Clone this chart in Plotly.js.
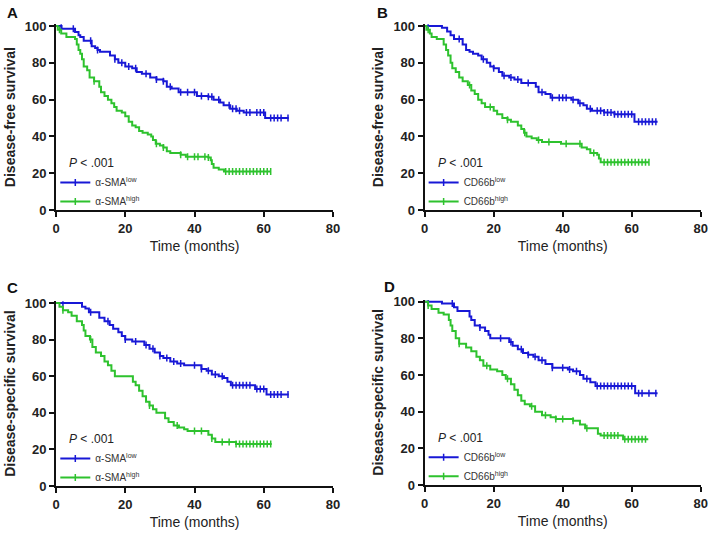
<!DOCTYPE html>
<html>
<head>
<meta charset="utf-8">
<script src="https://cdn.plot.ly/plotly-3.0.1.min.js"></script>
<style>
  body { margin: 0; background: #fff; }
  #plot { width: 709px; height: 534px; }
</style>
</head>
<body>
<div id="plot"></div>
<script>
// Kaplan-Meier steps: time (months) and survival (%)
var aLowT = [0,1.6,5.5,6.5,7,8,10.3,11.3,12,12.7,15.6,17,18,20,22,23.3,24.8,27.2,29,31,32,33.4,35.4,40.7,44,45.5,47.4,48.4,50.3,52.2,54.2,60.4,67.2];
var aLowS = [100,98.5,96.7,95,94,92,89,88,87,86,84,82,80,78,77,75,74,72,71,70,67,66,64,62,61.5,60,58.5,57,55,54,53,50,50];
var aHighT = [0,0.5,1.5,3,5.5,6,6.5,7,7.5,8,9,9.7,11,12.5,13,14,15,16,16.8,17.5,19,20,21,22,23,24,25,26.5,27.5,28,28.8,30,31,32,33,36,37.5,44,44.7,45,45.5,47,48.5,62];
var aHighS = [100,98,96,94,93,90,87,85,82,78,76,72,70,67,64,62,60,58,56,54,53,51,48,46,45,43,42,41,40,38,36,35,34,32,31,30,29,28.5,27,25,23,22,21,21];

var bLowT = [0,5,6.5,7.5,8.5,11,12,13,14,15.5,16.5,18,19,20,21.5,22.5,24.5,26,28,32.2,33,35,36.5,42.5,44.5,46,47,48.5,52,55,60.8,67.5];
var bLowS = [100,99,97,95,93,90,87,86,85,84,82,80,78,77,75,73,72,71,69,67,64,63,61,60,58,57,55,54,53,52,48,48];
var bHighT = [0,0.5,1.5,2,3.5,5.5,6.2,6.8,7.5,8,9,10,11,12.5,13.5,14.5,15.5,16.5,17.5,20,21,22.5,24,25,27,28,28.8,29.5,31,32.5,34,39.5,45.5,47,48,50,50.5,51,65];
var bHighS = [100,98,96,94,93,90,87,84,80,77,75,72,70,68,65,63,60,58,56,54,52,50,49,48,46,44,42,40,39,38,37,36,34,33,31,30,28,26,26];

var cLowT = [0,7.5,8.5,9.5,12.5,14,15.5,16.5,18,19,20,22,25.5,27,28.5,30,31,33,35,37,42,43.5,45,47,48.5,49.5,50.5,57.5,60.8,67.2];
var cLowS = [100,98,97,95,92,90,88,86,84,82,80,79,77,75,73,71,70,68,67,66,64,63,61,60,59,57,55,53,50,50];
var cHighT = [0,1,2,3.5,4.5,6,7.5,8,8.5,9.8,10.5,11.5,13,14,15,16,17,22.2,23,24,25,26,27,28,29,31.5,32.5,34,35.5,37,38,44,45,46,52,62.3];
var cHighS = [100,98,96,95,93,90,88,85,82,80,76,73,71,68,66,63,60,57,55,52,49,46,44,42,40,37,35,33,32,31,30,28,26,24,23,23];

var dLowT = [0,5,8.5,9.5,13,13.5,14.5,16,17.5,18.5,19,24.5,25.5,27,28.5,30,31.5,33,35,37,41.5,43,45,46,48,49.5,61,67.5];
var dLowS = [100,99,97,95,92,90,87,86,84,82,80,78,76,74,72,71,70,68,66,64,63,62,60,58,56,54,50,50];
var dHighT = [0,1,2,4,5.5,7,7.5,8,9,10,12,13.5,15,16,17,19,21,22.5,23.5,25,26,27,28,29,30.5,32,34,36.5,38,43,45,46.5,50.2,51,57.5,64.8];
var dHighS = [100,98,96,94,93,90,87,84,80,77,75,73,70,68,65,63,62,60,58,55,52,49,46,44,43,40,38,37,36,35,33,31,28,27,25,25];

// censored observations (months)
var aLowC = [1.5,5,10,12,17,19,21,23,26,29,31,33,36,38,40,42,44,45,47,50,51,52,53,55,56,58,59,60,62,63,64,65,67];
var aHighC = [1,11,29,31,36,38,40,41,43,44,49,50,51,52,53,54,55,56,57,58,59,60,61,62];
var bLowC = [1,10,17,20,23,25,27,30,34,37,39,40,41,43,45,48,50,51,52,53,54,55,56,57,58,59,60,62,63,64,65,66,67];
var bHighC = [1,13,19,24,29,33,36,41,45,49,52,53,54,55,56,57,58,59,60,61,62,63,64,65];
var cLowC = [2,10,15,20,23,26,28,30,32,34,36,40,42,44,46,48,51,52,53,54,55,56,58,59,60,62,63,64,65,67];
var cHighC = [2,10,27,35,40,42,45,48,50,52,53,54,55,56,57,58,59,60,61,62];
var dLowC = [1,8,16,22,25,28,30,32,34,37,40,42,44,47,50,51,52,53,54,55,56,57,58,59,60,62,63,65,67];
var dHighC = [1,10,18,24,31,35,38,40,43,47,52,53,54,55,56,58,59,60,61,62,63,64];

var panelLetters = ['A', 'B', 'C', 'D'];
var yTitles = ['Disease-free survival', 'Disease-free survival', 'Disease-specific survival', 'Disease-specific survival'];
var groupNames = [['α-SMA<sup>low</sup>', 'α-SMA<sup>high</sup>'], ['CD66b<sup>low</sup>', 'CD66b<sup>high</sup>'],
                  ['α-SMA<sup>low</sup>', 'α-SMA<sup>high</sup>'], ['CD66b<sup>low</sup>', 'CD66b<sup>high</sup>']];
var pText = '<i>P</i> < .001';

var BLUE = '#1818d6';
var GREEN = '#2ec22e';
var FONT = 'Liberation Sans, Arial, sans-serif';

var curves = [
  [[aLowT, aLowS, aLowC], [aHighT, aHighS, aHighC]],
  [[bLowT, bLowS, bLowC], [bHighT, bHighS, bHighC]],
  [[cLowT, cLowS, cLowC], [cHighT, cHighS, cHighC]],
  [[dLowT, dLowS, dLowC], [dHighT, dHighS, dHighC]]
];

function stepAt(t, s, x) {
  var v = s[0];
  for (var i = 0; i < t.length; i++) {
    if (t[i] <= x) v = s[i];
  }
  return v;
}

var data = [];
for (var p = 0; p < 4; p++) {
  var xa = p == 0 ? 'x' : 'x' + (p + 1);
  var ya = p == 0 ? 'y' : 'y' + (p + 1);
  var lg = p == 0 ? 'legend' : 'legend' + (p + 1);
  for (var g = 0; g < 2; g++) {
    var col = g == 0 ? BLUE : GREEN;
    var c = curves[p][g];
    data.push({
      x: c[0], y: c[1], xaxis: xa, yaxis: ya,
      mode: 'lines', type: 'scatter', line: {color: col, width: 2, shape: 'hv'},
      showlegend: false, hoverinfo: 'skip'
    });
    var cy = [];
    for (var k = 0; k < c[2].length; k++) cy.push(stepAt(c[0], c[1], c[2][k]));
    data.push({
      x: c[2], y: cy, xaxis: xa, yaxis: ya,
      mode: 'markers', type: 'scatter',
      marker: {symbol: 'line-ns-open', size: 5, color: col, line: {color: col, width: 1.5}},
      showlegend: false, hoverinfo: 'skip'
    });
    // legend entry
    data.push({
      x: [null], y: [null], xaxis: xa, yaxis: ya, legend: lg,
      name: groupNames[p][g], mode: 'lines+markers', type: 'scatter',
      line: {color: col, width: 2},
      marker: {symbol: 'line-ns-open', size: 5, color: col, line: {color: col, width: 1.5}}
    });
  }
}

var xDom = [[0.079, 0.4697], [0.599, 0.9883], [0.079, 0.4697], [0.599, 0.9883]];
var yDom = [[0.6067, 0.9547], [0.6067, 0.9547], [0.0899, 0.4360], [0.0918, 0.4384]];

var layout = {
  width: 709, height: 534,
  margin: {l: 0, r: 0, t: 0, b: 0},
  paper_bgcolor: '#fff', plot_bgcolor: '#fff',
  font: {family: FONT, color: '#222'},
  showlegend: true,
  annotations: []
};

var legPos = [[0.078, 0.6854], [0.5975, 0.6854], [0.078, 0.1685], [0.5975, 0.171]];

for (var p = 0; p < 4; p++) {
  var suf = p == 0 ? '' : String(p + 1);
  layout['xaxis' + suf] = {
    domain: xDom[p], anchor: 'y' + suf, range: [0, 80],
    tickvals: [0, 20, 40, 60, 80],
    showline: true, linewidth: 2, linecolor: '#111',
    ticks: 'outside', ticklen: 5, tickwidth: 2, tickcolor: '#111',
    showgrid: false, zeroline: false,
    tickfont: {size: 13, weight: 'bold', color: '#222'},
    title: {text: 'Time (months)', font: {size: 14, color: '#222'}, standoff: 7}
  };
  layout['yaxis' + suf] = {
    domain: yDom[p], anchor: 'x' + suf, range: [0, 101],
    tickvals: [0, 20, 40, 60, 80, 100],
    showline: true, linewidth: 2, linecolor: '#111',
    ticks: 'outside', ticklen: 5, tickwidth: 2, tickcolor: '#111',
    showgrid: false, zeroline: false,
    tickfont: {size: 13, weight: 'bold', color: '#222'},
    title: {text: yTitles[p], font: {size: 14, weight: 'bold', color: '#222'}, standoff: 6}
  };
  layout['legend' + (p == 0 ? '' : p + 1)] = {
    x: legPos[p][0], y: legPos[p][1], xanchor: 'left', yanchor: 'top',
    bgcolor: 'rgba(0,0,0,0)', borderwidth: 0,
    font: {size: 10, color: '#333'}, tracegroupgap: 0
  };
  layout.annotations.push({
    xref: 'x' + suf, yref: 'y' + suf, x: 3.3, y: 25.5,
    xanchor: 'left', yanchor: 'middle', showarrow: false,
    text: pText, font: {size: 12, color: '#222'}
  });
}

var letterPos = [[12, 13], [382, 13], [12, 287], [389, 286]];
for (var p = 0; p < 4; p++) {
  layout.annotations.push({
    xref: 'paper', yref: 'paper',
    x: letterPos[p][0] / 709, y: 1 - letterPos[p][1] / 534,
    xanchor: 'center', yanchor: 'middle', showarrow: false,
    text: panelLetters[p], font: {size: 15, weight: 'bold', color: '#111'}
  });
}

Plotly.newPlot('plot', data, layout, {staticPlot: true});
</script>
</body>
</html>
